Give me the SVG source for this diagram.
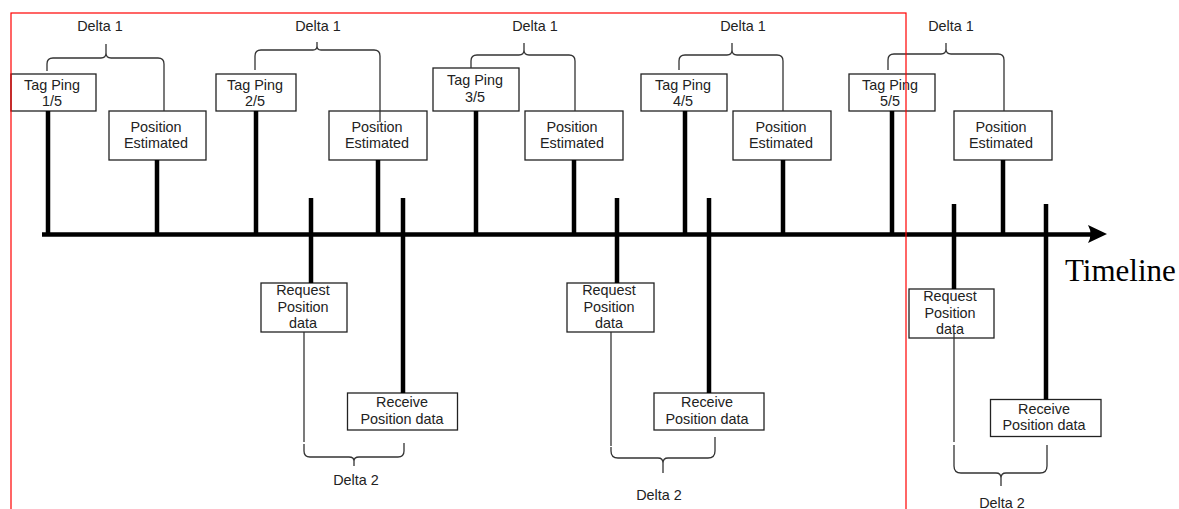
<svg xmlns="http://www.w3.org/2000/svg" width="1179" height="509" viewBox="0 0 1179 509">
<defs>
<style>
.box{fill:#fff;stroke:#222;stroke-width:1.3}
.t{font-family:"Liberation Sans",Arial,sans-serif;font-size:14.4px;fill:#222;text-anchor:middle}
.stem{stroke:#000;stroke-width:4.5;fill:none}
.brace{stroke:#333;stroke-width:1.3;fill:none}
.frame{fill:none;stroke:#f00;stroke-width:1.2}
.tl{font-family:"Liberation Serif","Times New Roman",serif;font-size:31px;fill:#000}
</style>
</defs>
<rect width="1179" height="509" fill="#fff"/>

<g id="nodes">
<g id="tag1"><rect class="box" x="11" y="74" width="85" height="37"/><text class="t" x="52" y="89.5">Tag Ping</text><text class="t" x="52" y="106">1/5</text></g>
<g id="pos1"><rect class="box" x="109" y="111" width="97" height="49"/><text class="t" x="156" y="131.5">Position</text><text class="t" x="156" y="148">Estimated</text></g>
<g id="tag2"><rect class="box" x="216" y="74" width="80" height="37"/><text class="t" x="255" y="89.5">Tag Ping</text><text class="t" x="255" y="106">2/5</text></g>
<g id="pos2"><rect class="box" x="329" y="111" width="98" height="49"/><text class="t" x="377" y="131.5">Position</text><text class="t" x="377" y="148">Estimated</text></g>
<g id="tag3"><rect class="box" x="433" y="68" width="86" height="43"/><text class="t" x="475" y="85">Tag Ping</text><text class="t" x="475" y="102">3/5</text></g>
<g id="pos3"><rect class="box" x="525" y="111" width="98" height="49"/><text class="t" x="572" y="131.5">Position</text><text class="t" x="572" y="148">Estimated</text></g>
<g id="tag4"><rect class="box" x="641" y="74" width="86" height="37"/><text class="t" x="683" y="89.5">Tag Ping</text><text class="t" x="683" y="106">4/5</text></g>
<g id="pos4"><rect class="box" x="733" y="111" width="98" height="49"/><text class="t" x="781" y="131.5">Position</text><text class="t" x="781" y="148">Estimated</text></g>
<g id="tag5"><rect class="box" x="849" y="74" width="86" height="37"/><text class="t" x="890" y="89.5">Tag Ping</text><text class="t" x="890" y="106">5/5</text></g>
<g id="pos5"><rect class="box" x="954" y="111" width="98" height="49"/><text class="t" x="1001" y="131.5">Position</text><text class="t" x="1001" y="148">Estimated</text></g>

<g id="req1"><rect class="box" x="261" y="283" width="86" height="49"/><text class="t" x="303" y="295">Request</text><text class="t" x="303" y="311.5">Position</text><text class="t" x="303" y="328">data</text></g>
<g id="rec1"><rect class="box" x="347.5" y="393" width="110" height="37"/><text class="t" x="402" y="407">Receive</text><text class="t" x="402" y="423.5">Position data</text></g>
<g id="req2"><rect class="box" x="567" y="283" width="87" height="49"/><text class="t" x="609" y="295">Request</text><text class="t" x="609" y="311.5">Position</text><text class="t" x="609" y="328">data</text></g>
<g id="rec2"><rect class="box" x="654" y="393" width="110" height="37"/><text class="t" x="707" y="407">Receive</text><text class="t" x="707" y="423.5">Position data</text></g>
<g id="req3"><rect class="box" x="909" y="289" width="85" height="49"/><text class="t" x="950" y="301">Request</text><text class="t" x="950" y="317.5">Position</text><text class="t" x="950" y="334">data</text></g>
<g id="rec3"><rect class="box" x="990.5" y="399.5" width="110.5" height="37"/><text class="t" x="1044" y="413.5">Receive</text><text class="t" x="1044" y="430">Position data</text></g>

<g id="timeline-label"><text class="tl" x="1065" y="281">Timeline</text></g>
<g id="delta-labels">
<text class="t" x="100" y="31">Delta 1</text>
<text class="t" x="318" y="31">Delta 1</text>
<text class="t" x="535" y="31">Delta 1</text>
<text class="t" x="743" y="31">Delta 1</text>
<text class="t" x="951" y="31">Delta 1</text>
<text class="t" x="356" y="485">Delta 2</text>
<text class="t" x="659" y="500">Delta 2</text>
<text class="t" x="1002" y="507.5">Delta 2</text>
</g>
</g>

<g id="connectors">
<path class="stem" d="M42,234.5 H1092"/>
<path d="M1107,234 L1088,225 Q1093,234 1088,243 Z" fill="#000"/>
<path class="stem" d="M48,111 V234 M157,160 V234 M256,111 V234 M378,160 V234 M476,111 V234 M574,160 V234 M685,111 V234 M783,160 V234 M892,111 V234 M1003,160 V234"/>
<path class="stem" d="M311,198 V283 M403,198 V393 M617,198 V283 M709,198 V393 M954,204 V289 M1046,204 V399.5"/>

<path class="brace" d="M47,71 V64 Q47,58 53,58 H101 Q106,58 106,53 V44 V53 Q106,58 111,58 H158 Q164,58 164,64 V111"/>
<path class="brace" d="M255,70 V56 Q255,50 261,50 H313 Q317,50 317,46 V42 V46 Q317,50 321,50 H374 Q380,50 380,56 V122"/>
<path class="brace" d="M471,68 V61 Q471,55 477,55 H519 Q524,55 524,50 V43 V50 Q524,55 529,55 H569 Q575,55 575,61 V111"/>
<path class="brace" d="M679,70 V61 Q679,55 685,55 H727 Q732,55 732,50 V43 V50 Q732,55 737,55 H777 Q783,55 783,61 V111"/>
<path class="brace" d="M888,70 V60 Q888,54 894,54 H941 Q946,54 946,49 V43 V49 Q946,54 951,54 H998 Q1004,54 1004,60 V111"/>

<path class="brace" d="M304,332 V442"/>
<path class="brace" d="M304,444 V451 Q304,457 310,457 H349 Q354,457 354,461 V466 V461 Q354,457 359,457 H398 Q404,457 404,451 V443"/>
<path class="brace" d="M611,332 V446"/>
<path class="brace" d="M611,447 V451 Q611,458 618,458 H658 Q663,458 663,463 V473 V463 Q663,458 668,458 H708 Q715,458 715,451 V437"/>
<path class="brace" d="M954,333 V442"/>
<path class="brace" d="M954,445 V466 Q954,473 961,473 H996 Q1001,473 1001,478 V486 V478 Q1001,473 1006,473 H1040 Q1047,473 1047,466 V445"/>
</g>

<rect id="frame" class="frame" x="11" y="13" width="895" height="520"/>
</svg>
